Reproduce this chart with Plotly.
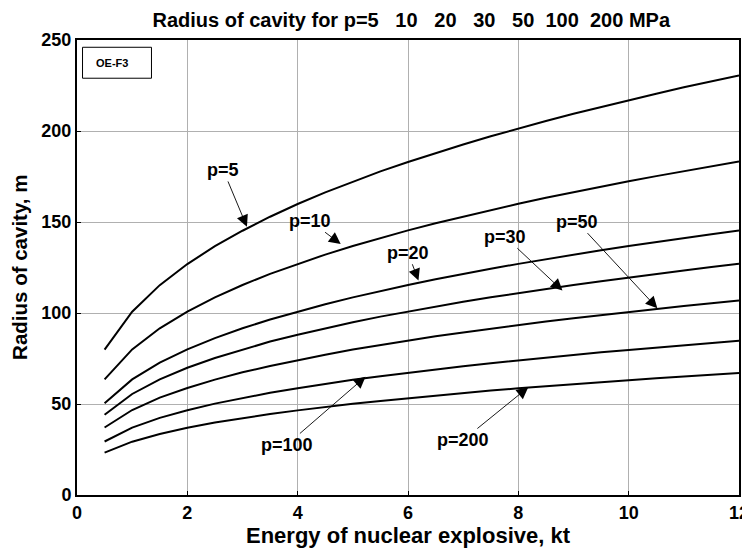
import plotly.graph_objects as go

energy = [0.5, 1, 1.5, 2, 2.5, 3, 3.5, 4, 4.5, 5, 5.5, 6, 6.5, 7, 7.5, 8, 8.5, 9, 9.5, 10, 10.5, 11, 11.5, 12]

r_p5 = [79.9, 100.7, 115.3, 126.9, 136.7, 145.2, 152.9, 159.9, 166.3, 172.2, 177.8, 183.0,
        187.9, 192.6, 197.1, 201.4, 205.5, 209.5, 213.3, 217.0, 220.5, 224.0, 227.3, 230.5]
r_p10 = [63.5, 80.0, 91.6, 100.8, 108.6, 115.4, 121.5, 127.0, 132.1, 136.8, 141.2, 145.4,
         149.3, 153.0, 156.6, 160.0, 163.3, 166.4, 169.4, 172.4, 175.2, 177.9, 180.6, 183.2]
r_p20 = [50.4, 63.5, 72.7, 80.0, 86.2, 91.6, 96.4, 100.8, 104.8, 108.6, 112.1, 115.4,
         118.5, 121.5, 124.3, 127.0, 129.6, 132.1, 134.5, 136.8, 139.1, 141.2, 143.3, 145.4]
r_p30 = [44.1, 55.5, 63.5, 69.9, 75.3, 80.0, 84.3, 88.1, 91.6, 94.9, 98.0, 100.8,
         103.6, 106.2, 108.6, 111.0, 113.3, 115.4, 117.5, 119.6, 121.5, 123.4, 125.3, 127.1]
r_p50 = [37.1, 46.7, 53.5, 58.8, 63.4, 67.4, 70.9, 74.1, 77.1, 79.9, 82.4, 84.9,
         87.2, 89.3, 91.4, 93.4, 95.3, 97.1, 98.9, 100.6, 102.3, 103.9, 105.4, 106.9]
r_p100 = [29.4, 37.0, 42.4, 46.6, 50.2, 53.4, 56.2, 58.7, 61.1, 63.3, 65.3, 67.2,
          69.1, 70.8, 72.4, 74.0, 75.5, 77.0, 78.4, 79.7, 81.0, 82.3, 83.5, 84.7]
r_p200 = [23.3, 29.3, 33.5, 36.9, 39.8, 42.3, 44.5, 46.5, 48.4, 50.1, 51.7, 53.2,
          54.7, 56.0, 57.4, 58.6, 59.8, 60.9, 62.1, 63.1, 64.2, 65.2, 66.1, 67.1]

series_names = ["p=5", "p=10", "p=20", "p=30", "p=50", "p=100", "p=200"]
series_values = [r_p5, r_p10, r_p20, r_p30, r_p50, r_p100, r_p200]

# label text, arrow tip (x, y), label centre (x, y)
label_text = ["p=5", "p=10", "p=20", "p=30", "p=50", "p=100", "p=200"]
label_tip_x = [3.08, 4.78, 6.19, 8.80, 10.52, 5.23, 8.18]
label_tip_y = [147.4, 137.9, 117.8, 112.3, 102.6, 65.0, 59.2]
label_pos_x = [2.65, 4.22, 6.00, 7.76, 9.06, 3.80, 7.00]
label_pos_y = [178.6, 150.7, 133.1, 141.9, 150.2, 27.5, 30.2]

x_ticks = [0, 2, 4, 6, 8, 10, 12]
y_ticks = [0, 50, 100, 150, 200, 250]

FONT = "Liberation Sans, Arial, sans-serif"

fig = go.Figure()
for name, vals in zip(series_names, series_values):
    fig.add_trace(go.Scatter(x=energy, y=vals, mode="lines", name=name,
                             line=dict(color="black", width=2), showlegend=False))

for t, tx, ty, px, py in zip(label_text, label_tip_x, label_tip_y, label_pos_x, label_pos_y):
    fig.add_annotation(x=tx, y=ty, ax=px, ay=py, xref="x", yref="y", axref="x", ayref="y",
                       text="<b>%s</b>" % t, showarrow=True, arrowhead=2, arrowsize=2.6,
                       arrowwidth=0.9, arrowcolor="black", standoff=0, startstandoff=0,
                       font=dict(family=FONT, size=18, color="black"))

# small label box at top-left
fig.add_shape(type="rect", xref="x", yref="y", x0=0.10, x1=1.35, y0=229, y1=246,
              line=dict(color="black", width=1), fillcolor="white")
fig.add_annotation(x=0.30, y=237.5, xref="x", yref="y", text="<b>OE-F3</b>",
                   showarrow=False, xanchor="left",
                   font=dict(family=FONT, size=11, color="black"))

# axis titles
fig.add_annotation(x=0.5, y=-0.088, xref="paper", yref="paper", showarrow=False,
                   xanchor="center", yanchor="middle",
                   text="<b>Energy of nuclear explosive, kt</b>",
                   font=dict(family=FONT, size=22, color="black"))
fig.add_annotation(x=-0.087, y=0.5, xref="paper", yref="paper", showarrow=False,
                   xanchor="center", yanchor="middle", textangle=-90,
                   text="<b>Radius of cavity, m</b>",
                   font=dict(family=FONT, size=20.5, color="black"))

# page body has an 8px margin, so the figure is drawn slightly smaller
fig.update_layout(
    width=742, height=541,
    margin=dict(l=69, r=11, t=32, b=54, autoexpand=False),
    paper_bgcolor="white", plot_bgcolor="white",
    font=dict(family=FONT, color="black"),
    title=dict(text="<b>Radius of cavity for p=5   10   20   30   50  100  200 MPa</b>",
               x=0.5435, xanchor="center", y=0.978, yanchor="middle",
               font=dict(family=FONT, size=20, color="black")),
)
fig.update_xaxes(range=[0, 12], tickvals=x_ticks, ticktext=["<b>%d</b>" % v for v in x_ticks],
                 showgrid=True, gridcolor="#b0b0b0", gridwidth=1, automargin=False,
                 showline=True, linecolor="black", linewidth=2, mirror=True,
                 ticks="inside", ticklen=4, tickcolor="black", zeroline=False,
                 ticklabeloverflow="allow",
                 tickfont=dict(family=FONT, size=18, color="black"))
fig.update_yaxes(range=[0, 250], tickvals=y_ticks, ticktext=["<b>%d</b>" % v for v in y_ticks],
                 showgrid=True, gridcolor="#b0b0b0", gridwidth=1, automargin=False,
                 showline=True, linecolor="black", linewidth=2, mirror=True,
                 ticks="inside", ticklen=4, tickcolor="black", zeroline=False,
                 tickfont=dict(family=FONT, size=18, color="black"))

fig.write_html("out.html")
